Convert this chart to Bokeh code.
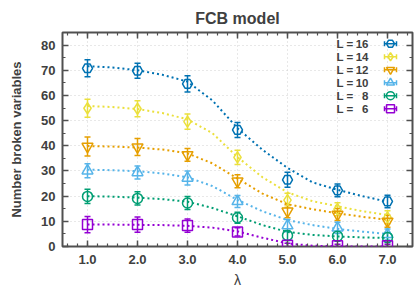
import numpy as np
from bokeh.plotting import figure
from bokeh.models import (LinearAxis, Range1d, FixedTicker, ColumnDataSource,
                          Whisker, TeeHead, NumeralTickFormatter)
from bokeh.embed import file_html
from bokeh.resources import INLINE
from bokeh.core.properties import value

# ---------------- data ----------------
lam = [1, 2, 3, 4, 5, 6, 7]
sizes = [16, 14, 12, 10, 8, 6]

v16 = [70.8, 69.8, 64.6, 46.3, 26.5, 22.3, 17.9]
e16 = [3.4, 3.0, 3.2, 3.0, 3.0, 2.5, 2.5]
v14 = [54.9, 54.7, 49.6, 35.4, 18.4, 14.8, 11.6]
e14 = [3.6, 3.2, 3.0, 2.8, 2.8, 2.6, 2.6]
v12 = [39.7, 39.5, 36.4, 25.9, 14.0, 12.7, 10.0]
e12 = [3.8, 3.4, 2.5, 2.6, 2.6, 2.4, 2.4]
v10 = [30.1, 29.4, 27.2, 17.9, 8.3, 7.4, 4.8]
e10 = [2.8, 2.6, 2.8, 2.4, 2.4, 2.2, 2.2]
v8 = [19.9, 19.1, 17.3, 11.4, 4.4, 4.1, 3.6]
e8 = [2.8, 2.6, 2.6, 2.2, 2.0, 2.0, 2.0]
v6 = [8.7, 8.7, 8.3, 5.8, 0.5, 0.3, 0.3]
e6 = [3.2, 3.0, 2.6, 1.6, 0.8, 0.6, 0.6]

fit_lam = [1.0, 1.5, 2.0, 2.5, 3.0, 3.5, 4.0, 4.5, 5.0, 5.5, 6.0, 6.5, 7.0]
f16 = [71.6, 71.1, 70.0, 68.2, 65.5, 58.0, 47.0, 38.4, 31.2, 25.5, 22.5, 20.0, 17.8]
f14 = [55.8, 55.4, 54.6, 53.0, 50.5, 45.0, 35.5, 27.5, 21.5, 18.0, 16.0, 14.0, 12.5]
f12 = [39.9, 39.7, 39.3, 38.5, 37.0, 33.0, 27.0, 21.0, 16.8, 14.8, 13.2, 11.8, 10.6]
f10 = [30.5, 30.3, 29.9, 29.0, 27.5, 24.0, 18.5, 14.0, 10.5, 8.5, 7.0, 5.9, 5.0]
f8 = [20.0, 19.8, 19.4, 18.8, 17.8, 15.3, 12.0, 8.5, 5.8, 4.6, 4.0, 3.6, 3.4]
f6 = [8.7, 8.7, 8.6, 8.5, 8.2, 7.5, 6.0, 3.5, 1.2, 0.3, 0.1, 0.0, 0.0]

x_ticks = [1, 2, 3, 4, 5, 6, 7]
y_ticks = [0, 10, 20, 30, 40, 50, 60, 70, 80]

series = [
    (16, v16, e16, f16, "#0072b2", "hex"),
    (14, v14, e14, f14, "#ebe03c", "diamond"),
    (12, v12, e12, f12, "#e69f00", "inverted_triangle"),
    (10, v10, e10, f10, "#56b4e9", "triangle"),
    (8, v8, e8, f8, "#009e73", "circle"),
    (6, v6, e6, f6, "#9400d3", "square"),
]

FONT = "Liberation Sans"
TXT = "#404040"
AX = "#505050"

# frame placement (figure pixels)
W, H = 416, 290
FL, FR, FT, FB = 62, 412, 32, 247
XMIN, XMAX, YMIN, YMAX = 0.5, 7.5, 0.0, 85.0

p = figure(width=W, height=H, output_backend="svg", toolbar_location=None,
           x_range=Range1d(XMIN, XMAX), y_range=Range1d(YMIN, YMAX),
           min_border_left=FL, min_border_right=W - FR,
           min_border_top=FT, min_border_bottom=H - FB,
           x_axis_label="λ", y_axis_label="Number broken variables")

p.title.text = "FCB model"
p.title.align = "center"
p.title.vertical_align = "top"
p.title.text_font = FONT
p.title.text_font_size = "16px"
p.title.text_font_style = "bold"
p.title.text_color = TXT
p.title.standoff = 8

p.outline_line_color = AX
p.outline_line_width = 2
p.background_fill_color = "white"
p.border_fill_color = "white"

def px2x(px):
    return XMIN + (px - FL) / (FR - FL) * (XMAX - XMIN)

def px2y(py):
    return YMAX - (py - FT) / (FB - FT) * (YMAX - YMIN)

x_minor = [round(v, 2) for v in np.arange(0.6, 7.5, 0.2)]
y_minor = list(range(5, 86, 5))

def style_axis(ax, ticks, minor, labels=True):
    ax.ticker = FixedTicker(ticks=ticks, minor_ticks=minor)
    ax.axis_line_color = None
    ax.major_tick_in = 6
    ax.major_tick_out = 0
    ax.minor_tick_in = 3
    ax.minor_tick_out = 0
    ax.major_tick_line_color = AX
    ax.minor_tick_line_color = AX
    ax.major_tick_line_width = 1.5
    ax.minor_tick_line_width = 1.2
    ax.major_label_text_font = FONT
    ax.major_label_text_font_style = "bold"
    ax.major_label_text_font_size = "13px" if labels else "1px"
    ax.major_label_text_color = TXT
    if not labels:
        ax.major_label_overrides = {t: "" for t in ticks}
        ax.major_label_standoff = 0
    ax.axis_label_text_font = FONT
    ax.axis_label_text_font_style = "bold"
    ax.axis_label_text_font_size = "13px"
    ax.axis_label_text_color = TXT

style_axis(p.xaxis[0], x_ticks, x_minor)
style_axis(p.yaxis[0], y_ticks, y_minor)
p.xaxis[0].formatter = NumeralTickFormatter(format="0.0")
p.xaxis[0].major_label_standoff = 8
p.xaxis[0].axis_label_standoff = 5
p.xaxis[0].axis_label_text_font_style = "normal"
p.xaxis[0].axis_label_text_font_size = "14px"
p.yaxis[0].major_label_standoff = 7
p.yaxis[0].axis_label_standoff = 14

top = LinearAxis()
style_axis(top, x_ticks, x_minor, labels=False)
right = LinearAxis()
style_axis(right, y_ticks, y_minor, labels=False)
p.add_layout(top, "above")
p.add_layout(right, "right")

p.xgrid.ticker = FixedTicker(ticks=x_ticks)
p.ygrid.ticker = FixedTicker(ticks=y_ticks)
for g in (p.xgrid[0], p.ygrid[0]):
    g.grid_line_color = "#d0d0d0"
    g.grid_line_dash = "1 3"
    g.grid_line_width = 1

# draw series
for L, vals, errs, fits, col, mk in series:
    p.line(fit_lam, fits, line_color=col, line_width=2, line_dash="2 3")
    src = ColumnDataSource(dict(
        x=lam, y=vals,
        lo=[v - e for v, e in zip(vals, errs)],
        hi=[v + e for v, e in zip(vals, errs)]))
    wk = Whisker(base="x", upper="hi", lower="lo", source=src,
                 line_color=col, line_width=1.5,
                 upper_head=TeeHead(size=6, line_color=col, line_width=1.5),
                 lower_head=TeeHead(size=6, line_color=col, line_width=1.5))
    p.add_layout(wk)
    sz = 10 if mk in ("hex", "circle", "square") else 11
    p.scatter("x", "y", source=src, marker=mk, size=sz, fill_alpha=0,
              line_color=col, line_width=1.5)

# manual legend (positions in figure pixels, converted to data)
row0, drow = 43.3, 13.05
for i, (L, vals, errs, fits, col, mk) in enumerate(series):
    yy = px2y(row0 + i * drow)
    p.text(x=[px2x(336)], y=[yy], text=["L ="], text_font=value(FONT),
           text_font_style="bold", text_font_size="11.5px", text_color=TXT,
           text_baseline="middle", text_align="left")
    p.text(x=[px2x(368)], y=[yy], text=[str(L)], text_font=value(FONT),
           text_font_style="bold", text_font_size="11.5px", text_color=TXT,
           text_baseline="middle", text_align="right")
    xa, xb = px2x(384), px2x(396)
    dy = 2.5 * (YMAX - YMIN) / (FB - FT)
    p.segment(x0=[xa], y0=[yy], x1=[xb], y1=[yy], line_color=col, line_width=1.5)
    p.segment(x0=[xa, xb], y0=[yy - dy, yy - dy], x1=[xa, xb], y1=[yy + dy, yy + dy],
              line_color=col, line_width=1.5)
    p.scatter(x=[px2x(390)], y=[yy], marker=mk, size=8, fill_alpha=0,
              line_color=col, line_width=1.5)

open("out.html", "w").write(file_html(p, INLINE))
